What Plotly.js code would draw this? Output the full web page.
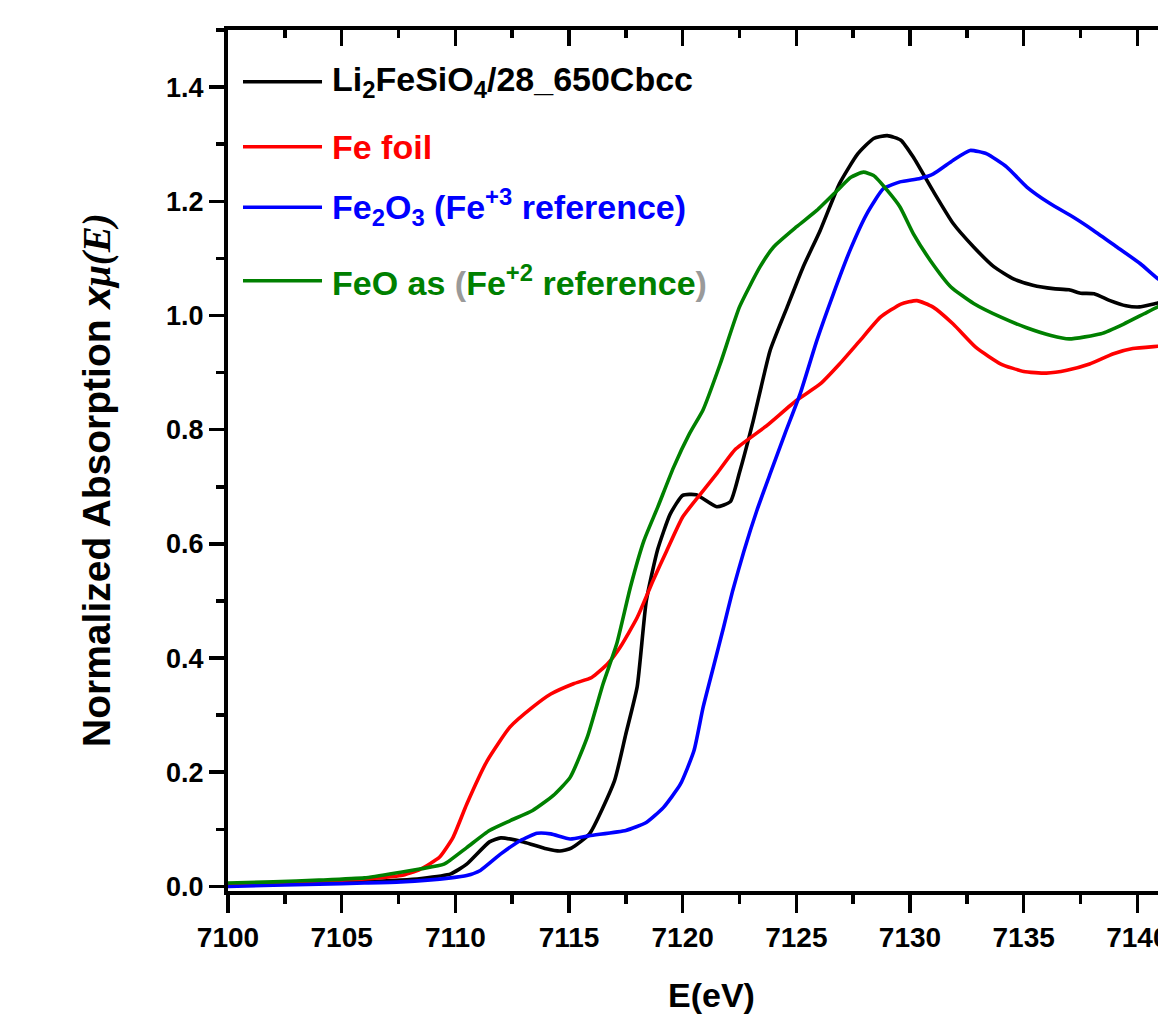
<!DOCTYPE html>
<html>
<head>
<meta charset="utf-8">
<script src="https://cdn.plot.ly/plotly-3.0.1.min.js"></script>
<style>
html,body{margin:0;padding:0;overflow:hidden;background:#fff;}
#chart{width:1300px;height:1021px;}
</style>
</head>
<body>
<div id="chart"></div>
<script>
// ---- Data ----
const energyLFS = [7100,7102,7104,7106,7107.6,7108.5,7109.8,7110.5,7111.5,7112.0,7113.0,7114.0,7114.6,7115.1,7115.9,7117.0,7117.5,7118.0,7118.4,7118.9,7119.45,7120.0,7120.6,7121.5,7122.1,7122.5,7123.1,7123.85,7124.6,7125.3,7126.05,7126.9,7127.7,7128.4,7129.0,7129.6,7130.15,7131.0,7131.9,7132.8,7133.7,7134.55,7135.4,7136.3,7137.0,7137.5,7138.1,7138.8,7139.5,7140.1,7140.9,7141.5];
const muLFS     = [0.003,0.004,0.006,0.008,0.011,0.014,0.022,0.039,0.078,0.085,0.078,0.066,0.062,0.067,0.092,0.185,0.267,0.350,0.500,0.590,0.652,0.685,0.686,0.665,0.674,0.725,0.815,0.939,1.015,1.085,1.149,1.231,1.283,1.310,1.315,1.307,1.277,1.219,1.161,1.120,1.085,1.064,1.053,1.047,1.045,1.039,1.038,1.026,1.017,1.015,1.022,1.025];

const energyFe = [7100,7102,7104,7106,7107.6,7108.45,7109.3,7109.9,7110.5,7111.4,7112.4,7113.4,7114.2,7115.2,7116.0,7116.7,7117.25,7118.0,7118.7,7119.3,7120.0,7120.8,7121.5,7122.3,7123.7,7125.0,7126.05,7126.9,7127.8,7128.7,7129.6,7130.3,7131.0,7131.9,7132.9,7134.0,7135.0,7136.0,7136.9,7137.9,7138.95,7139.8,7140.9,7141.5];
const muFe     = [0.004,0.006,0.009,0.013,0.019,0.030,0.051,0.086,0.144,0.220,0.279,0.314,0.337,0.355,0.366,0.390,0.419,0.471,0.536,0.588,0.647,0.688,0.723,0.765,0.807,0.851,0.880,0.915,0.956,0.997,1.020,1.026,1.015,0.985,0.944,0.915,0.902,0.899,0.904,0.915,0.933,0.942,0.946,0.948];

const energyFe2O3 = [7100,7102,7104,7106,7107.6,7109.8,7110.5,7111.1,7112.0,7112.85,7113.6,7114.2,7115.05,7115.9,7117.5,7118.4,7119.15,7119.9,7120.5,7120.9,7121.35,7121.8,7122.2,7122.7,7123.26,7123.85,7124.5,7125.17,7125.9,7126.63,7127.36,7128.1,7128.83,7129.56,7130.44,7131.03,7131.9,7132.64,7133.38,7134.26,7135.14,7136.16,7137.19,7138.07,7139.1,7140.12,7140.91,7141.5];
const muFe2O3     = [0.000,0.002,0.004,0.006,0.008,0.015,0.019,0.028,0.057,0.080,0.093,0.092,0.083,0.089,0.098,0.112,0.138,0.179,0.238,0.314,0.384,0.454,0.518,0.588,0.658,0.723,0.793,0.863,0.956,1.038,1.114,1.178,1.222,1.234,1.240,1.248,1.272,1.289,1.283,1.260,1.225,1.196,1.172,1.149,1.120,1.091,1.064,1.048];

const energyFeO = [7100,7102,7104,7106,7107.6,7108.5,7109.5,7110.5,7111.5,7112.4,7113.4,7114.3,7115.05,7115.8,7116.5,7117.1,7117.7,7118.3,7118.9,7119.6,7120.3,7120.9,7121.65,7122.5,7123.4,7124.0,7125.0,7125.9,7126.8,7127.4,7127.95,7128.4,7129.0,7129.56,7130.15,7130.9,7131.8,7132.8,7134.0,7135.1,7136.2,7137.0,7138.4,7139.4,7140.3,7140.9,7141.5];
const muFeO     = [0.006,0.008,0.011,0.015,0.025,0.031,0.039,0.068,0.098,0.115,0.133,0.159,0.191,0.261,0.355,0.425,0.524,0.606,0.664,0.734,0.793,0.835,0.915,1.015,1.085,1.120,1.155,1.184,1.219,1.242,1.251,1.245,1.219,1.190,1.143,1.096,1.050,1.021,0.997,0.979,0.965,0.959,0.968,0.985,1.003,1.015,1.025];

const seriesNames = [
  'Li<sub>2</sub>FeSiO<sub>4</sub>/28_650Cbcc',
  'Fe foil',
  'Fe<sub>2</sub>O<sub>3</sub> (Fe<sup>+3</sup> reference)',
  'FeO as <span style="fill:#9a9a9a;color:#9a9a9a">(</span>Fe<sup>+2</sup> reference<span style="fill:#9a9a9a;color:#9a9a9a">)</span>'
];
const seriesColors = ['#000000','#ff0000','#0000ff','#008000'];
const xTickVals = [7100,7105,7110,7115,7120,7125,7130,7135,7140,7145];
const yTickVals = [0.0,0.2,0.4,0.6,0.8,1.0,1.2,1.4];
const yTickText = ['0.0','0.2','0.4','0.6','0.8','1.0','1.2','1.4'];

// ---- Layout geometry ----
const W = 1300, H = 1021;
const mL = 228, mT = 30, mB = 130;
const xRange = [7100, 7145];
const pxPerEV = 22.73;
const plotW = (xRange[1]-xRange[0])*pxPerEV;
const mR = W - mL - plotW;
const plotH = H - mT - mB;
const px2x = px => (px - mL)/plotW;
const py2y = py => (H - mB - py)/plotH;

const xs = [energyLFS, energyFe, energyFe2O3, energyFeO];
const ys = [muLFS, muFe, muFe2O3, muFeO];
const traces = xs.map((x,i)=>({
  x: x, y: ys[i], type:'scatter', mode:'lines',
  line:{color:seriesColors[i], width:3.6, shape:'spline', smoothing:0.5},
  name: seriesNames[i], showlegend:false, hoverinfo:'skip'
}));

const sans = '"Liberation Sans", Arial, sans-serif';

// manual legend
const legendRows = [81.7, 146.7, 207.3, 280.7];
const shapes = [];
const annotations = [];
legendRows.forEach((py,i)=>{
  shapes.push({type:'line', xref:'paper', yref:'paper',
    x0:px2x(243), x1:px2x(322), y0:py2y(py), y1:py2y(py),
    line:{color:seriesColors[i], width:3.6}});
  annotations.push({xref:'paper', yref:'paper', x:px2x(330), y:py2y(py),
    xanchor:'left', yanchor:'middle', showarrow:false, text:seriesNames[i],
    font:{family:sans, size:34, weight:'bold', color:seriesColors[i]}});
});
// axis titles
annotations.push({xref:'paper', yref:'paper', x:px2x(711), y:py2y(995),
  xanchor:'center', yanchor:'middle', showarrow:false, text:'E(eV)',
  font:{family:sans, size:34, weight:'bold', color:'#000'}});
annotations.push({xref:'paper', yref:'paper', x:px2x(97), y:py2y(480),
  xanchor:'center', yanchor:'middle', showarrow:false, textangle:-90,
  text:'Normalized Absorption <i>x</i><span style="font-family:Liberation Serif, Times New Roman, serif"><i>μ(E)</i></span>',
  font:{family:sans, size:39, weight:'bold', color:'#000'}});

const layout = {
  width: W, height: H,
  margin:{l:mL, r:mR, t:mT, b:mB, pad:0},
  paper_bgcolor:'#fff', plot_bgcolor:'#fff',
  showlegend:false,
  xaxis:{
    range:xRange, tickvals:xTickVals, ticktext:xTickVals.map(String),
    ticks:'outside', ticklen:18, tickwidth:3.5, tickcolor:'#000',
    minor:{dtick:2.5, tick0:7100, ticks:'outside', ticklen:9, tickwidth:3.5, tickcolor:'#000', showgrid:false},
    showline:true, linewidth:4, linecolor:'#000', showgrid:false, zeroline:false,
    tickfont:{family:sans, size:28, weight:'bold', color:'#000'},
    automargin:false
  },
  xaxis2:{
    overlaying:'x', side:'top', matches:'x', range:xRange, tickvals:xTickVals,
    showticklabels:false, ticks:'inside', ticklen:16, tickwidth:3.5, tickcolor:'#000',
    minor:{dtick:2.5, tick0:7100, ticks:'inside', ticklen:8, tickwidth:3.5, tickcolor:'#000', showgrid:false},
    showline:true, linewidth:4, linecolor:'#000', showgrid:false, zeroline:false, anchor:'y'
  },
  yaxis:{
    range:[-0.008, 1.5], tickvals:yTickVals, ticktext:yTickText,
    ticks:'outside', ticklen:15, tickwidth:3.5, tickcolor:'#000',
    minor:{dtick:0.1, tick0:0, ticks:'outside', ticklen:8, tickwidth:3.5, tickcolor:'#000', showgrid:false},
    showline:true, linewidth:4, linecolor:'#000', showgrid:false, zeroline:false,
    tickfont:{family:sans, size:27, weight:'bold', color:'#000'},
    automargin:false
  },
  shapes: shapes,
  annotations: annotations
};

traces.push({x:[], y:[], xaxis:'x2', yaxis:'y', type:'scatter', mode:'lines', showlegend:false, hoverinfo:'skip'});

Plotly.newPlot('chart', traces, layout, {staticPlot:true, displayModeBar:false});
</script>
</body>
</html>
